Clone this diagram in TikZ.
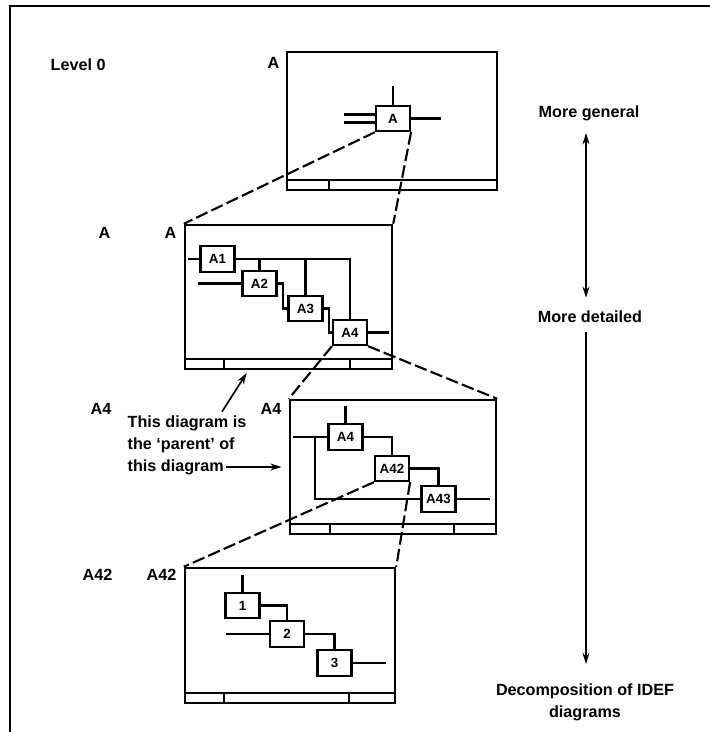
\documentclass[tikz,border=0pt]{standalone}
\usepackage{fontspec}
\setmainfont{Liberation Sans}
\usetikzlibrary{arrows.meta}
\begin{document}
\begin{tikzpicture}[x=0.025cm, y=-0.025cm,
        >={Stealth[length=8pt, width=5pt]},
        lbl/.style={font=\bfseries\fontsize{11.5}{16}\selectfont, inner sep=1pt},
        sheet/.style={draw, line width=1.7pt, inner sep=0pt},
        act/.style={draw, line width=1.5pt, inner sep=0pt, minimum width=0.85cm,
                    minimum height=0.63cm, font=\bfseries\fontsize{9.5}{11}\selectfont},
        wire/.style={line width=1.5pt},
        zoomln/.style={line width=1.5pt, dash pattern=on 9pt off 3pt},
        ax/.style={line width=1.2pt}
    ]
    \useasboundingbox (0,0) rectangle (710,732);
    % Rahmen der Seite
    \draw[line width=1.7pt] (710,6) -- (10,6) -- (10,732);

    % vier Blaetter
    \node[sheet, minimum width=5.25cm, minimum height=3.45cm] (lv0) at (392,121) {};
    \node[sheet, minimum width=5.175cm, minimum height=3.6cm] (lv1) at (288.5,297) {};
    \node[sheet, minimum width=5.15cm, minimum height=3.35cm] (lv2) at (393,467) {};
    \node[sheet, minimum width=5.25cm, minimum height=3.375cm] (lv3) at (290,635.5) {};
    \foreach \s in {lv0,lv1,lv2,lv3}
        \draw[wire] ([yshift=0.275cm]\s.south west) -- ([yshift=0.275cm]\s.south east);
    \foreach \x/\y in {329/179, 224/359, 350/359, 330/523, 454/523, 224/692, 349/692}
        \draw[wire] (\x,\y) -- (\x,\y+11);

    % Beschriftungen links
    \node[lbl, anchor=west] (lev) at (49,65) {Level 0};
    \node[lbl, anchor=east] (n0) at (281,63) {A};
    \node[lbl, anchor=east] (o1) at (112,233) {A};
    \node[lbl, anchor=east] (i1) at (178,233) {A};
    \node[lbl, anchor=east] (o2) at (113,409) {A4};
    \node[lbl, anchor=east] (i2) at (283,409) {A4};
    \node[lbl, anchor=east] (o3) at (114,575) {A42};
    \node[lbl, anchor=east] (i3) at (178,575) {A42};

    % Aktivitaeten
    \node[act] (a0) at (393,118.5) {A};
    \node[act] (a1) at (217.5,259) {A1};
    \node[act] (a2) at (259.5,283.5) {A2};
    \node[act] (a3) at (305.5,308.5) {A3};
    \node[act] (a4) at (350,332.5) {A4};
    \node[act] (b4) at (345.5,437) {A4};
    \node[act] (b42) at (392,468.5) {A42};
    \node[act] (b43) at (438.5,499) {A43};
    \node[act] (c1) at (242.5,605.5) {1};
    \node[act] (c2) at (287,634) {2};
    \node[act] (c3) at (334.5,663) {3};

    % Level 0
    \draw[wire] (a0.north) -- ++(0,-19);
    \draw[wire] ([yshift=0.1cm]a0.west) -- ++(-31,0);
    \draw[wire] ([yshift=-0.1cm]a0.west) -- ++(-31,0);
    \draw[wire] (a0.east) -- ++(30,0);

    % Blatt A
    \draw[wire] (a1.west) -- ++(-11,0);
    \draw[wire] (a1.east) -| (a4.north);
    \draw[wire] (a2.north |- a1.east) -- (a2.north);
    \draw[wire] (a3.north |- a1.east) -- (a3.north);
    \draw[wire] (a2.west) -- ++(-43,0);
    \draw[wire] (a2.east) -- ++(5,0) |- (a3.west);
    \draw[wire] (a3.east) -- ++(5,0) |- (a4.west);
    \draw[wire] (a4.east) -- ++(21,0);

    % Blatt A4
    \coordinate (split) at ([xshift=-0.3cm]b4.west);
    \draw[wire] (b4.north) -- ++(0,-17);
    \draw[wire] (b4.west) -- ++(-34,0);
    \draw[wire] (split) |- (b43.west);
    \draw[wire] (b4.east) -| (b42.north);
    \draw[wire] (b42.east) -| (b43.north);
    \draw[wire] (b43.east) -- ++(33,0);

    % Blatt A42
    \draw[wire] (c1.north) -- ++(0,-17);
    \draw[wire] (c1.east) -| (c2.north);
    \draw[wire] (c2.west) -- ++(-43,0);
    \draw[wire] (c2.east) -| (c3.north);
    \draw[wire] (c3.east) -- ++(33,0);

    % Zoom-Linien
    \foreach \s/\t in {a0/lv1, a4/lv2, b42/lv3} {
        \draw[zoomln] (\s.south west) -- (\t.north west);
        \draw[zoomln] (\s.south east) -- (\t.north east);
    }

    % Hinweis
    \node[lbl, anchor=west] (note1) at (126,423) {This diagram is};
    \node[lbl, anchor=west] (note2) at (126,445) {the `parent' of};
    \node[lbl, anchor=west] (note3) at (126,467) {this diagram};
    \draw[ax, ->, shorten >=0.08cm] ([xshift=-0.65cm,yshift=0.05cm]note1.north east) -- ([xshift=-1cm]lv1.south);
    \draw[ax, ->, shorten >=0.18cm] (note3.east) -- (note3.east -| lv2.west);

    % Achse rechts
    \node[lbl] (gen) at (589,113) {More general};
    \node[lbl] (det) at (590,317) {More detailed};
    \node[lbl, align=center, anchor=north] (dec) at (585,682) {Decomposition of IDEF\\diagrams};
    \draw[ax, <->, shorten <=0.27cm, shorten >=0.29cm] ([xshift=-0.075cm]gen.south) -- ([xshift=-0.1cm]det.north);
    \draw[ax, ->, shorten <=0.19cm, shorten >=0.45cm] ([xshift=-0.1cm]det.south) -- ([xshift=0.025cm]dec.north);
\end{tikzpicture}
\end{document}
